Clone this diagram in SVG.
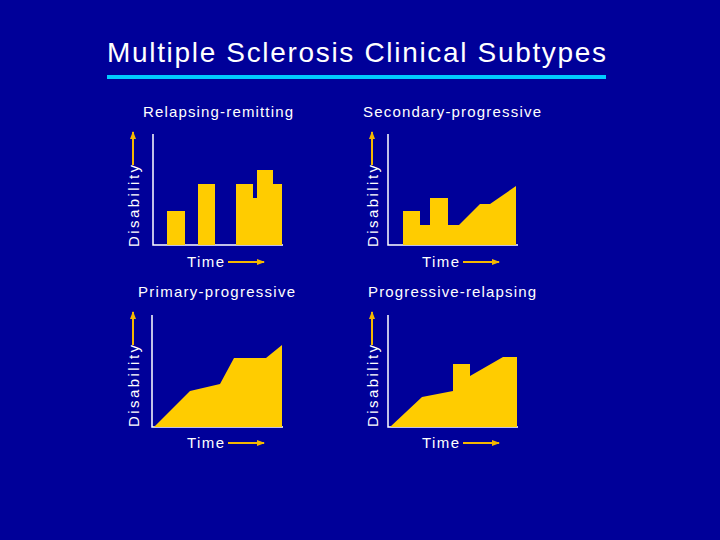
<svg xmlns="http://www.w3.org/2000/svg" width="720" height="540" viewBox="0 0 720 540">
<defs>
<style>
text{font-family:"Liberation Sans",Arial,sans-serif;fill:#fff}
.t{font-size:15px}
.d{font-size:15px}
.ax{stroke:#fff;stroke-width:1.5;fill:none}
.ar{stroke:#f5b800;stroke-width:2;fill:none}
.f{fill:#ffcc00}
</style>
<marker id="ah" markerWidth="8" markerHeight="8" refX="7" refY="4" orient="auto" markerUnits="userSpaceOnUse"><path d="M0,1 L8,4 L0,7 Z" fill="#f5b800"/></marker>
</defs>
<rect width="720" height="540" fill="#000099"/>
<g id="title">
<text x="107" y="62" font-size="28" textLength="499" lengthAdjust="spacing">Multiple Sclerosis Clinical Subtypes</text>
<rect x="107" y="75" width="499" height="4" fill="#00ccff"/>
</g>
<g id="rr">
<text class="t" x="143" y="117" textLength="150" lengthAdjust="spacing">Relapsing-remitting</text>
<path class="ax" d="M153,134 V245 H283"/>
<polygon class="f" points="167,245 167,211 185,211 185,245"/>
<polygon class="f" points="198,245 198,184 215,184 215,245"/>
<polygon class="f" points="236,245 236,184 253,184 253,198 257,198 257,170 273,170 273,184 282,184 282,245"/>
<text class="d" transform="translate(139,247) rotate(-90)" textLength="82" lengthAdjust="spacing">Disability</text>
<text class="t" x="187" y="267" textLength="37" lengthAdjust="spacing">Time</text>
</g>
<g id="sp">
<text class="t" x="363" y="117" textLength="178" lengthAdjust="spacing">Secondary-progressive</text>
<path class="ax" d="M388,134 V245 H518"/>
<polygon class="f" points="403,245 403,211 420,211 420,225 430,225 430,198 448,198 448,225 459,225 480,204 490,204 516,186 516,245"/>
<text class="d" transform="translate(378,247) rotate(-90)" textLength="82" lengthAdjust="spacing">Disability</text>
<text class="t" x="422" y="267" textLength="37" lengthAdjust="spacing">Time</text>
</g>
<g id="pp">
<text class="t" x="138" y="297" textLength="157" lengthAdjust="spacing">Primary-progressive</text>
<path class="ax" d="M152,315 V427 H283"/>
<polygon class="f" points="154,427 190,391 220,384 234,358 266,358 282,345 282,427"/>
<text class="d" transform="translate(139,427) rotate(-90)" textLength="82" lengthAdjust="spacing">Disability</text>
<text class="t" x="187" y="448" textLength="37" lengthAdjust="spacing">Time</text>
</g>
<g id="pr">
<text class="t" x="368" y="297" textLength="168" lengthAdjust="spacing">Progressive-relapsing</text>
<path class="ax" d="M388,315 V427 H518"/>
<polygon class="f" points="390,427 422,397 453,391 453,364 470,364 470,376 503,357 517,357 517,427"/>
<text class="d" transform="translate(378,427) rotate(-90)" textLength="82" lengthAdjust="spacing">Disability</text>
<text class="t" x="422" y="448" textLength="37" lengthAdjust="spacing">Time</text>
</g>
<g id="connectors">
<line class="ar" x1="133" y1="165" x2="133" y2="132" marker-end="url(#ah)"/>
<line class="ar" x1="372" y1="165" x2="372" y2="132" marker-end="url(#ah)"/>
<line class="ar" x1="133" y1="345" x2="133" y2="312" marker-end="url(#ah)"/>
<line class="ar" x1="372" y1="345" x2="372" y2="312" marker-end="url(#ah)"/>
<line class="ar" x1="228" y1="262" x2="264" y2="262" marker-end="url(#ah)"/>
<line class="ar" x1="463" y1="262" x2="499" y2="262" marker-end="url(#ah)"/>
<line class="ar" x1="228" y1="443" x2="264" y2="443" marker-end="url(#ah)"/>
<line class="ar" x1="463" y1="443" x2="499" y2="443" marker-end="url(#ah)"/>
</g>
</svg>
